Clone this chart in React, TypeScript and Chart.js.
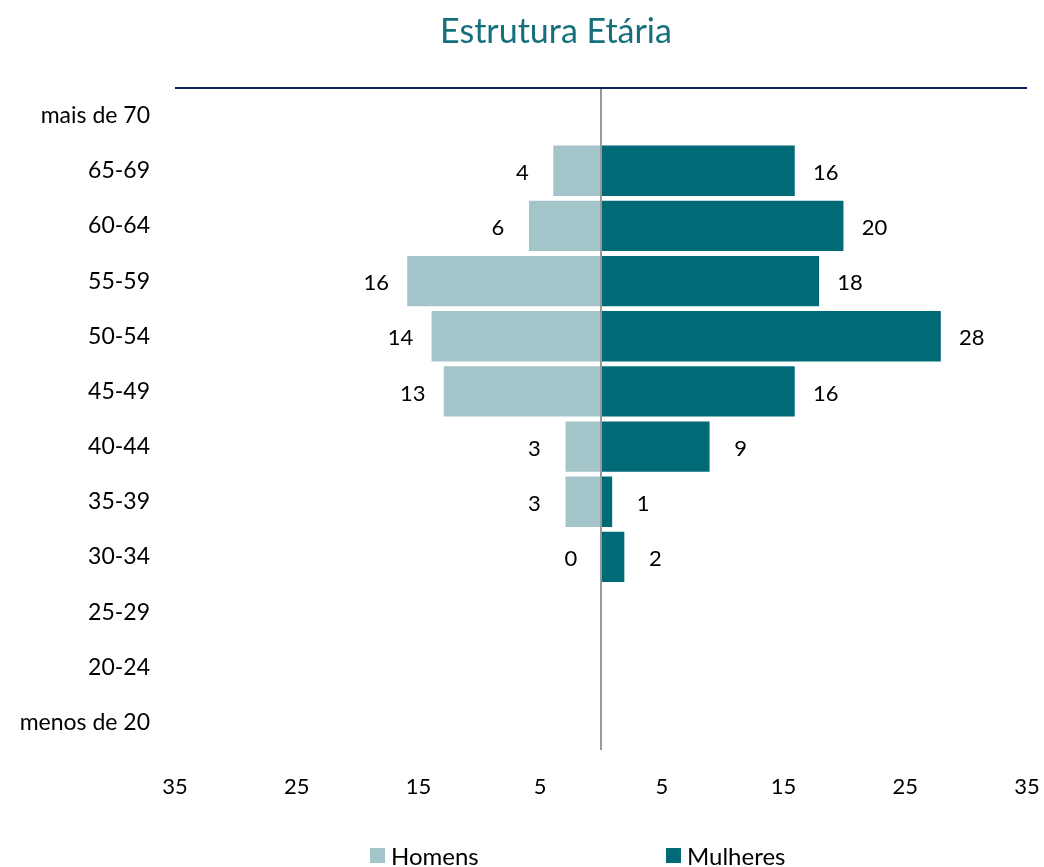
import React, { useEffect, useRef } from "react";
import { Chart, registerables } from "chart.js";
Chart.register(...registerables);

const categories = ["mais de 70", "65-69", "60-64", "55-59", "50-54", "45-49", "40-44", "35-39", "30-34", "25-29", "20-24", "menos de 20"];
const homens: (number | null)[] = [null, 4, 6, 16, 14, 13, 3, 3, 0, null, null, null];
const mulheres: (number | null)[] = [null, 16, 20, 18, 28, 16, 9, 1, 2, null, null, null];
const xTicks = [-35, -25, -15, -5, 5, 15, 25, 35];
const seriesNames = ["Homens", "Mulheres"];
const titleText = "Estrutura Etária";

const FONT = "Lato, 'Open Sans', sans-serif";
const COL_H = "#a3c4c9";
const COL_M = "#006b77";

const overlay = {
  id: "overlay",
  afterDatasetsDraw(chart: any) {
    const { ctx, chartArea, scales } = chart;
    ctx.save();
    const x0 = scales.x.getPixelForValue(0);
    ctx.strokeStyle = "#999999";
    ctx.lineWidth = 2;
    ctx.beginPath();
    ctx.moveTo(x0, chartArea.top);
    ctx.lineTo(x0, chartArea.bottom);
    ctx.stroke();
    ctx.strokeStyle = "#0e1f5b";
    ctx.lineWidth = 2;
    ctx.beginPath();
    ctx.moveTo(chartArea.left, chartArea.top);
    ctx.lineTo(chartArea.right, chartArea.top);
    ctx.stroke();
    ctx.fillStyle = "#000";
    ctx.font = `22px ${FONT}`;
    ctx.textAlign = "center";
    ctx.textBaseline = "middle";
    chart.data.datasets.forEach((ds: any, di: number) => {
      const meta = chart.getDatasetMeta(di);
      meta.data.forEach((el: any, i: number) => {
        const v = ds.data[i];
        if (v === null || v === undefined) return;
        const lx = di === 0 ? el.x - 30 : el.x + 30;
        ctx.fillText(String(Math.abs(v)), lx, el.y + 2);
      });
    });
    xTicks.forEach((t) => {
      ctx.fillText(String(Math.abs(t)), scales.x.getPixelForValue(t), chartArea.bottom + 37);
    });
    ctx.restore();
  },
  afterDraw(chart: any) {
    const { ctx } = chart;
    ctx.save();
    ctx.fillStyle = "#16707c";
    ctx.font = `34px ${FONT}`;
    ctx.textAlign = "center";
    ctx.textBaseline = "middle";
    ctx.fillText(titleText, 548, 24);
    ctx.font = `24px ${FONT}`;
    ctx.textAlign = "left";
    const items = [
      { x: 362, col: COL_H, name: seriesNames[0] },
      { x: 658, col: COL_M, name: seriesNames[1] },
    ];
    items.forEach((it) => {
      ctx.fillStyle = it.col;
      ctx.fillRect(it.x, 840, 15, 15);
      ctx.fillStyle = "#000";
      ctx.fillText(it.name, it.x + 21, 849);
    });
    ctx.restore();
  },
};

export default function App() {
  const ref = useRef<HTMLCanvasElement>(null);
  useEffect(() => {
    const chart = new Chart(ref.current!, {
      type: "bar",
      data: {
        labels: categories,
        datasets: [
          {
            label: seriesNames[0],
            data: homens.map((v) => (v === null ? null : -v)),
            backgroundColor: COL_H,
            borderColor: "rgba(255,255,255,0.5)",
            borderWidth: 1,
            barPercentage: 0.95,
            categoryPercentage: 1,
          },
          {
            label: seriesNames[1],
            data: mulheres,
            backgroundColor: COL_M,
            borderColor: "rgba(255,255,255,0.5)",
            borderWidth: 1,
            barPercentage: 0.95,
            categoryPercentage: 1,
          },
        ],
      },
      options: {
        indexAxis: "y",
        animation: false,
        responsive: false,
        layout: { padding: { top: 80, right: 17, left: 0, bottom: 0 } },
        plugins: { legend: { display: false }, title: { display: false }, tooltip: { enabled: false } },
        scales: {
          x: {
            stacked: true,
            min: -35,
            max: 35,
            afterBuildTicks: (s: any) => {
              s.ticks = xTicks.map((v) => ({ value: v }));
            },
            afterFit: (s: any) => {
              s.height = 117;
              s.paddingLeft = 0;
              s.paddingRight = 0;
            },
            grid: { display: false, drawTicks: false },
            border: { display: false },
            ticks: { display: false },
          },
          y: {
            stacked: true,
            afterFit: (s: any) => {
              s.width = 167;
              s.paddingTop = 0;
              s.paddingBottom = 0;
            },
            grid: { display: false, drawTicks: false },
            border: { display: false },
            ticks: {
              padding: 25,
              color: "#000",
              font: { family: FONT, size: 23 },
              autoSkip: false,
            },
          },
        },
      },
      plugins: [overlay],
    });
    return () => chart.destroy();
  }, []);
  return (
    <div style={{ position: "absolute", left: 8, top: 8, width: 1036, height: 859, overflow: "hidden" }}>
      <canvas ref={ref} width={1036} height={859} style={{ display: "block", width: 1036, height: 859 }} />
    </div>
  );
}
